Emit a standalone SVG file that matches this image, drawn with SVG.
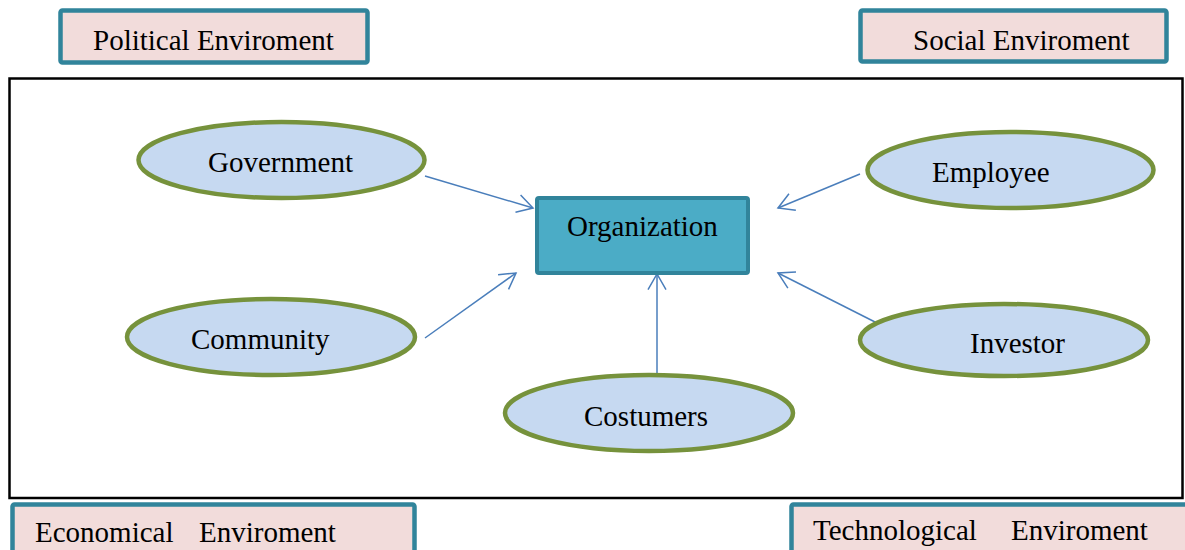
<svg xmlns="http://www.w3.org/2000/svg" width="1185" height="550" viewBox="0 0 1185 550">
  <style>
    .env { fill: #f2dcdb; stroke: #31849b; stroke-width: 4.5; }
    .actor { fill: #c6d9f1; stroke: #76923c; stroke-width: 4.5; }
    .org { fill: #4bacc6; stroke: #31849b; stroke-width: 4; }
    .frame { fill: none; stroke: #000000; stroke-width: 2.5; }
    .label { font-family: "Liberation Serif", "Times New Roman", serif; font-size: 29px; fill: #000000; }
    .link { stroke: #4a7ebb; stroke-width: 1.5; fill: none; }
  </style>
  <defs>
    <marker id="openArrow" markerUnits="userSpaceOnUse" viewBox="-18 -11 20 22" markerWidth="20" markerHeight="22" refX="0" refY="0" orient="auto">
      <path d="M -15.6 -9 L 0 0 L -15.6 9" fill="none" stroke="#4a7ebb" stroke-width="1.5"/>
    </marker>
  </defs>

  <rect width="1185" height="550" fill="#ffffff"/>

  <!-- outer frame around the organisation and its stakeholders -->
  <rect class="frame" x="9.5" y="78.5" width="1173" height="419.5"/>

  <!-- environment boxes -->
  <g id="political">
    <rect class="env" x="60.5" y="10.5" width="307" height="52" rx="2"/>
    <text class="label" x="93" y="50">Political Enviroment</text>
  </g>
  <g id="social">
    <rect class="env" x="860.5" y="10.5" width="306" height="51" rx="2"/>
    <text class="label" x="913" y="50">Social Enviroment</text>
  </g>
  <g id="economical">
    <rect class="env" x="12.5" y="504.5" width="402" height="70" rx="2"/>
    <text class="label" x="35" y="542">Economical</text>
    <text class="label" x="199" y="542">Enviroment</text>
  </g>
  <g id="technological">
    <rect class="env" x="791.5" y="504.5" width="420" height="70" rx="2"/>
    <text class="label" x="813" y="540">Technological</text>
    <text class="label" x="1011" y="540">Enviroment</text>
  </g>

  <!-- connectors -->
  <g id="connectors">
    <line class="link" x1="425" y1="176" x2="533" y2="208" marker-end="url(#openArrow)"/>
    <line class="link" x1="425" y1="338" x2="516" y2="273" marker-end="url(#openArrow)"/>
    <line class="link" x1="860" y1="174" x2="778" y2="208" marker-end="url(#openArrow)"/>
    <line class="link" x1="875" y1="322" x2="778" y2="273" marker-end="url(#openArrow)"/>
    <line class="link" x1="657" y1="375" x2="657" y2="274" marker-end="url(#openArrow)"/>
  </g>

  <!-- central node -->
  <g id="organization">
    <rect class="org" x="537" y="198" width="211" height="75" rx="2"/>
    <text class="label" x="567" y="236">Organization</text>
  </g>

  <!-- stakeholders -->
  <g id="government">
    <ellipse class="actor" cx="281.5" cy="160" rx="143" ry="38"/>
    <text class="label" x="208" y="172">Government</text>
  </g>
  <g id="community">
    <ellipse class="actor" cx="271" cy="337" rx="144" ry="38"/>
    <text class="label" x="191" y="349">Community</text>
  </g>
  <g id="employee">
    <ellipse class="actor" cx="1010.5" cy="170" rx="143" ry="38"/>
    <text class="label" x="932" y="182">Employee</text>
  </g>
  <g id="investor">
    <ellipse class="actor" cx="1004" cy="340" rx="144" ry="36"/>
    <text class="label" x="970" y="353">Investor</text>
  </g>
  <g id="costumers">
    <ellipse class="actor" cx="649" cy="413" rx="144" ry="38"/>
    <text class="label" x="584" y="426">Costumers</text>
  </g>
</svg>
